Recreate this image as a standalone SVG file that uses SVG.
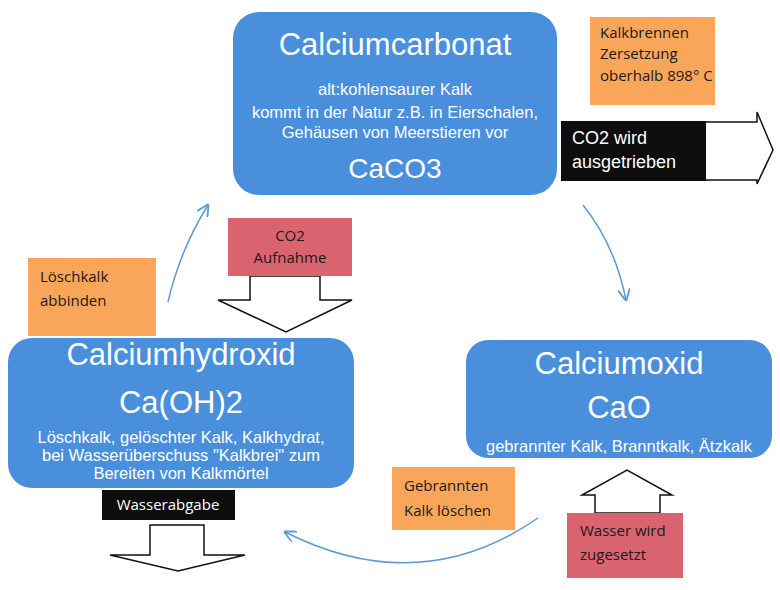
<svg xmlns="http://www.w3.org/2000/svg" width="780" height="590" viewBox="0 0 780 590">
<defs>
<style>
.node{fill:#4a8fdc}
.t{font-family:"Liberation Sans",Arial,sans-serif;fill:#fff;text-anchor:middle}
.big{font-size:31px}
.sm{font-size:16.5px}
.or{fill:#f9a65a}
.rd{fill:#d9646f}
.lab{font-family:"Open Sans","Liberation Sans",sans-serif;font-size:15px;font-weight:500;fill:#1a1a1a}
.bk{fill:#0d0d0d}
.blk{fill:#fff;stroke:#111;stroke-width:1.5}
.cur{fill:none;stroke:#5b9bd5;stroke-width:1.5;marker-end:url(#ah)}
</style>
<marker id="ah" viewBox="0 0 10 10" refX="9" refY="5" markerWidth="8" markerHeight="8" orient="auto"><path d="M0,0 L10,5 L0,10" fill="none" stroke="#5b9bd5" stroke-width="1.5"/></marker>
</defs>
<rect width="780" height="590" fill="#fff"/>
<g id="connectors">
<path class="cur" d="M583,205 Q615,245 626,300"/>
<path class="cur" d="M168,302 Q180,250 208,205"/>
<path class="cur" d="M538,518 Q420,600 285,532"/>
<polygon class="blk" points="250,276 320,276 320,300 352,300 286,332 218,300 250,300"/>
<polygon class="blk" points="150,525 204,525 204,555 245,555 178,571 110,555 150,555"/>
<polygon class="blk" points="595,513 660,513 660,495 672,495 627,470 582,495 595,495"/>
<polygon class="blk" points="700,122 757,122 757,112 773,150 757,184 757,180 700,180"/>
</g>
<g id="calciumcarbonat">
<rect class="node" x="233" y="12" width="324" height="183" rx="26"/>
<text class="t big" x="395" y="55">Calciumcarbonat</text>
<text class="t sm" x="395" y="95">alt:kohlensaurer Kalk</text>
<text class="t sm" x="395" y="118">kommt in der Natur z.B. in Eierschalen,</text>
<text class="t sm" x="395" y="138">Gehäusen  von Meerstieren vor</text>
<text class="t" style="font-size:28px" x="395" y="178">CaCO3</text>
</g>
<g id="calciumhydroxid">
<rect class="node" x="8" y="338" width="346" height="150" rx="24"/>
<text class="t big" x="181" y="365">Calciumhydroxid</text>
<text class="t big" x="181" y="413">Ca(OH)2</text>
<text class="t sm" x="181" y="443">Löschkalk, gelöschter Kalk, Kalkhydrat,</text>
<text class="t sm" x="181" y="461">bei Wasserüberschuss "Kalkbrei" zum</text>
<text class="t sm" x="181" y="479">Bereiten von Kalkmörtel</text>
</g>
<g id="calciumoxid">
<rect class="node" x="466" y="340" width="306" height="118" rx="22"/>
<text class="t big" x="619" y="374">Calciumoxid</text>
<text class="t big" x="619" y="418">CaO</text>
<text class="t sm" x="619" y="452">gebrannter Kalk, Branntkalk, Ätzkalk</text>
</g>
<g id="kalkbrennen">
<rect class="or" x="590" y="17" width="125" height="88"/>
<text class="lab" x="600" y="38">Kalkbrennen</text>
<text class="lab" x="600" y="59">Zersetzung</text>
<text class="lab" x="600" y="81">oberhalb 898° C</text>
</g>
<g id="co2-ausgetrieben">
<rect class="bk" x="561" y="121" width="145" height="60"/>
<text class="t" style="font-size:18px;text-anchor:start" x="572" y="144">CO2 wird</text>
<text class="t" style="font-size:18px;text-anchor:start" x="572" y="168">ausgetrieben</text>
</g>
<g id="loeschkalk-abbinden">
<rect class="or" x="28" y="258" width="128" height="78"/>
<text class="lab" x="40" y="282">Löschkalk</text>
<text class="lab" x="40" y="306">abbinden</text>
</g>
<g id="co2-aufnahme">
<rect class="rd" x="228" y="218" width="124" height="58"/>
<text class="lab" x="290" y="241" text-anchor="middle">CO2</text>
<text class="lab" x="290" y="263" text-anchor="middle">Aufnahme</text>
</g>
<g id="wasserabgabe">
<rect class="bk" x="102" y="490" width="133" height="30"/>
<text class="lab" style="fill:#fff;font-weight:400" x="168" y="510" text-anchor="middle">Wasserabgabe</text>
</g>
<g id="gebrannten-kalk-loeschen">
<rect class="or" x="392" y="467" width="123" height="63"/>
<text class="lab" x="404" y="491">Gebrannten</text>
<text class="lab" x="404" y="516">Kalk löschen</text>
</g>
<g id="wasser-zugesetzt">
<rect class="rd" x="567" y="513" width="116" height="65"/>
<text class="lab" x="580" y="536">Wasser wird</text>
<text class="lab" x="580" y="560">zugesetzt</text>
</g>
</svg>
